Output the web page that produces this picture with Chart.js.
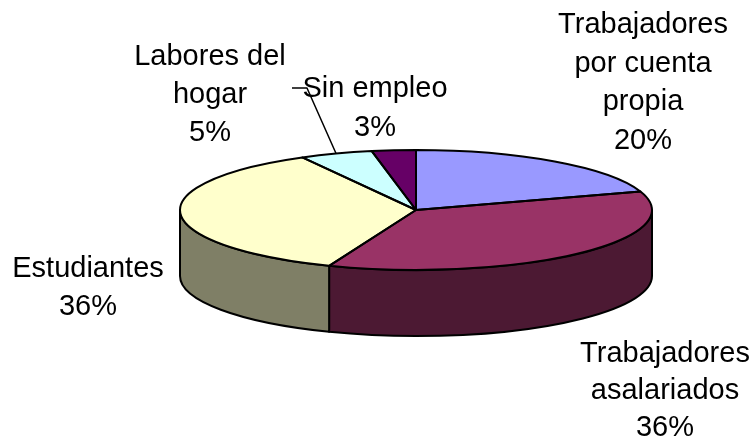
<!DOCTYPE html>
<html>
<head>
<meta charset="utf-8">
<style>html,body{margin:0;padding:0;background:#fff}canvas{display:block}</style>
<script src="https://cdn.jsdelivr.net/npm/chart.js@4"></script>
</head>
<body>
<canvas id="c" width="755" height="441"></canvas>
<script>
const categories = ["Trabajadores por cuenta propia","Trabajadores asalariados","Estudiantes","Labores del hogar","Sin empleo"];
const shares = [20,36,36,5,3];
const topColors = ["#9999FF","#993366","#FFFFCC","#CCFFFF","#660066"];
const sideColors = ["#4C4C7F","#4C1933","#7F7F66","#667F7F","#330033"];
const labelLines = [["Trabajadores","por cuenta","propia"],["Trabajadores","asalariados"],["Estudiantes"],["Labores del","hogar"],["Sin empleo"]];
const labelCenters = [[643,25,38.7],[665,354,37],[88,269,38],[210,57,38],[375,89,39]];

const RX = 236, RY = 60, DEPTH = 66;

const pie3d = {
  id: "pie3d",
  beforeDatasetsDraw(chart) {
    const ctx = chart.ctx, arcs = chart.getDatasetMeta(0).data;
    const cx = arcs[0].x, cy = arcs[0].y, r = arcs[0].outerRadius;
    ctx.save();
    ctx.lineWidth = 2; ctx.strokeStyle = "#000"; ctx.lineJoin = "round";
    arcs.forEach((a, i) => {
      const b0 = Math.max(a.startAngle, 0), b1 = Math.min(a.endAngle, Math.PI);
      if (b1 > b0) {
        ctx.beginPath();
        ctx.ellipse(cx, cy + DEPTH, RX, RY, 0, b0, b1, false);
        ctx.ellipse(cx, cy, RX, RY, 0, b1, b0, true);
        ctx.closePath();
        ctx.fillStyle = sideColors[i];
        ctx.fill(); ctx.stroke();
      }
    });
    ctx.restore();
    ctx.save();
    ctx.translate(cx, cy);
    ctx.scale(RX / r, RY / r);
    ctx.translate(-cx, -cy);
  },
  afterDatasetsDraw(chart) {
    const ctx = chart.ctx, arcs = chart.getDatasetMeta(0).data;
    ctx.restore();
    const cx = arcs[0].x, cy = arcs[0].y;
    ctx.save();
    ctx.lineWidth = 2; ctx.strokeStyle = "#000"; ctx.lineJoin = "round";
    arcs.forEach(a => {
      ctx.beginPath();
      ctx.moveTo(cx, cy);
      ctx.ellipse(cx, cy, RX, RY, 0, a.startAngle, a.endAngle, false);
      ctx.closePath();
      ctx.stroke();
    });
    // leader line for the "Labores del hogar" slice
    const m = (arcs[3].startAngle + arcs[3].endAngle) / 2;
    ctx.lineWidth = 1.5;
    ctx.beginPath();
    ctx.moveTo(cx + RX * Math.cos(m), cy + RY * Math.sin(m));
    ctx.lineTo(307, 88);
    ctx.lineTo(292, 88);
    ctx.stroke();
    // labels
    ctx.fillStyle = "#000";
    ctx.font = '29px "Liberation Sans", Arial, sans-serif';
    ctx.textAlign = "center"; ctx.textBaseline = "middle";
    labelLines.forEach((lines, i) => {
      const [x, y, lh] = labelCenters[i];
      lines.concat([shares[i] + "%"]).forEach((t, k) => ctx.fillText(t, x, y + k * lh));
    });
    ctx.restore();
  }
};

new Chart(document.getElementById("c"), {
  type: "pie",
  data: { labels: categories, datasets: [{ data: shares, backgroundColor: topColors, borderWidth: 0 }] },
  options: {
    responsive: false, animation: false,
    layout: { padding: { left: 77, right: 0, top: 0, bottom: 21 } },
    plugins: { legend: { display: false }, tooltip: { enabled: false } }
  },
  plugins: [pie3d]
});
</script>
</body>
</html>
